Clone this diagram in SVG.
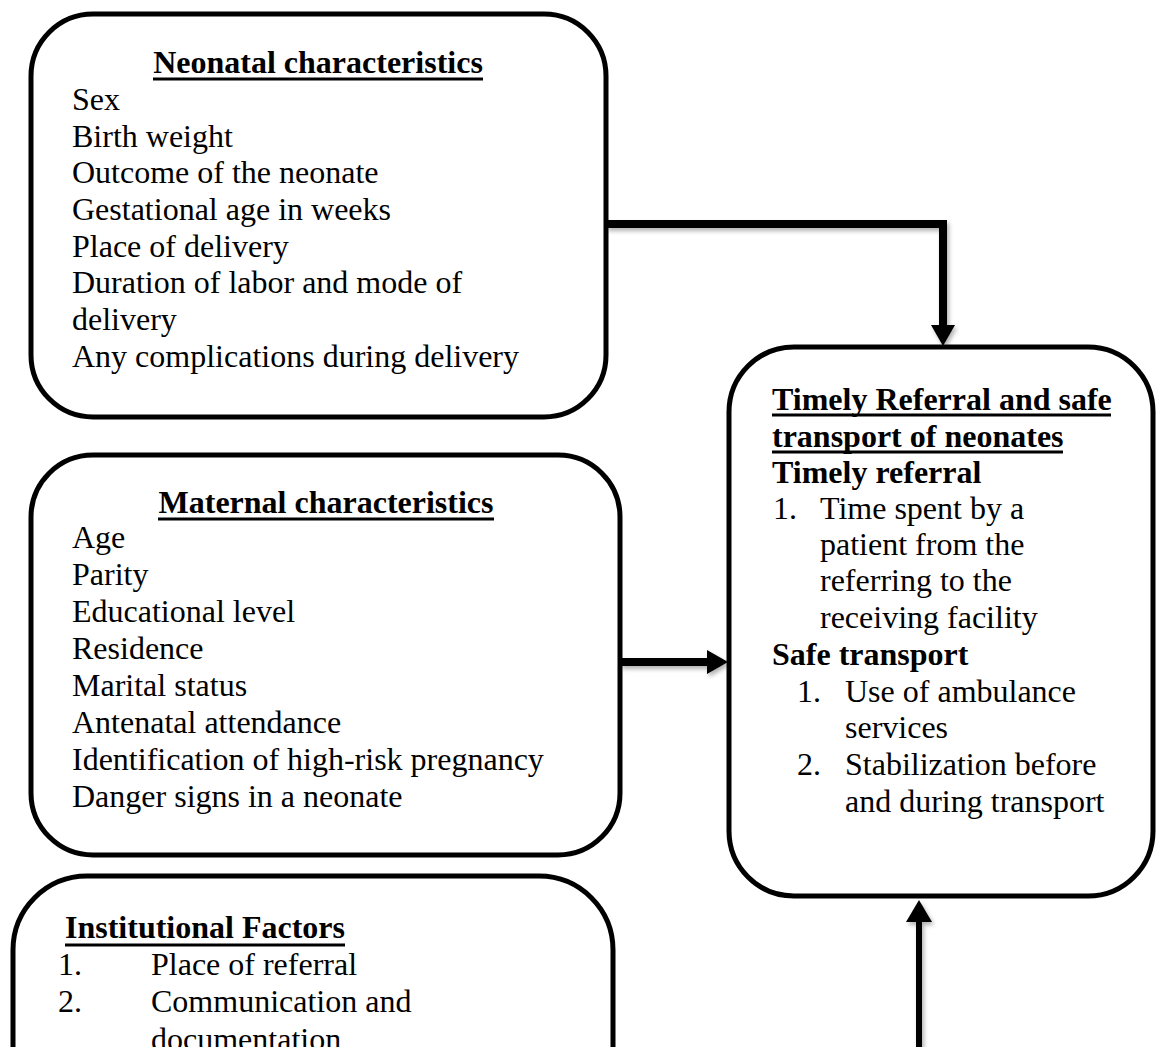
<svg xmlns="http://www.w3.org/2000/svg" width="1158" height="1047" viewBox="0 0 1158 1047">
<style>
.box{fill:#fff;stroke:#000;stroke-width:5}
.t{font-family:"Liberation Serif","Times New Roman",serif;font-size:32px;fill:#000}
.b{font-weight:bold}
.ul{stroke:#000;stroke-width:3}
.conn{fill:none;stroke:#000;stroke-linejoin:miter;stroke-linecap:butt}
</style>
<defs>
<filter id="sh" x="-20%" y="-20%" width="140%" height="140%">
<feDropShadow dx="2" dy="3" stdDeviation="2" flood-color="#000" flood-opacity="0.3"/>
</filter>
</defs>
<rect width="1158" height="1047" fill="#fff"/>

<g id="connectors" filter="url(#sh)">
<path class="conn" stroke-width="8" d="M606 224 H943 V326"/>
<polygon points="943,346 931,325 955,325" fill="#000"/>
<path class="conn" stroke-width="8" d="M620 662 H708"/>
<polygon points="728,662 707,650 707,674" fill="#000"/>
<path class="conn" stroke-width="6" d="M919 1050 V921"/>
<polygon points="919,900 906,922 932,922" fill="#000"/>
</g>

<g id="neonatal">
<rect class="box" x="31" y="14" width="575" height="403" rx="62" ry="62"/>
<text class="t b" x="318" y="73" text-anchor="middle">Neonatal characteristics</text>
<line class="ul" x1="153" y1="79" x2="483" y2="79"/>
<text class="t" x="72" y="110">Sex</text>
<text class="t" x="72" y="146.7">Birth weight</text>
<text class="t" x="72" y="183.3">Outcome of the neonate</text>
<text class="t" x="72" y="220">Gestational age in weeks</text>
<text class="t" x="72" y="256.7">Place of delivery</text>
<text class="t" x="72" y="293.3">Duration of labor and mode of</text>
<text class="t" x="72" y="330">delivery</text>
<text class="t" x="72" y="366.7">Any complications during delivery</text>
</g>

<g id="maternal">
<rect class="box" x="31" y="455" width="589" height="400" rx="62" ry="62"/>
<text class="t b" x="326" y="513" text-anchor="middle">Maternal characteristics</text>
<line class="ul" x1="158" y1="519" x2="494" y2="519"/>
<text class="t" x="72" y="548">Age</text>
<text class="t" x="72" y="585">Parity</text>
<text class="t" x="72" y="622">Educational level</text>
<text class="t" x="72" y="659">Residence</text>
<text class="t" x="72" y="696">Marital status</text>
<text class="t" x="72" y="733">Antenatal attendance</text>
<text class="t" x="72" y="770">Identification of high-risk pregnancy</text>
<text class="t" x="72" y="807">Danger signs in a neonate</text>
</g>

<g id="timely">
<rect class="box" x="729" y="347" width="424" height="549" rx="65" ry="65"/>
<text class="t b" x="772" y="410">Timely Referral and safe</text>
<line class="ul" x1="772" y1="415" x2="1111" y2="415"/>
<text class="t b" x="772" y="447">transport of neonates</text>
<line class="ul" x1="772" y1="452" x2="1063" y2="452"/>
<text class="t b" x="772" y="483">Timely referral</text>
<text class="t" x="773" y="519">1.</text>
<text class="t" x="820" y="519">Time spent by a</text>
<text class="t" x="820" y="555">patient from the</text>
<text class="t" x="820" y="591">referring to the</text>
<text class="t" x="820" y="628">receiving facility</text>
<text class="t b" x="772" y="665">Safe transport</text>
<text class="t" x="797" y="702">1.</text>
<text class="t" x="845" y="702">Use of ambulance</text>
<text class="t" x="845" y="738">services</text>
<text class="t" x="797" y="775">2.</text>
<text class="t" x="845" y="775">Stabilization before</text>
<text class="t" x="845" y="812">and during transport</text>
</g>

<g id="institutional">
<rect class="box" x="13" y="876" width="600" height="260" rx="74" ry="74"/>
<text class="t b" x="65" y="938">Institutional Factors</text>
<line class="ul" x1="65" y1="945" x2="345" y2="945"/>
<text class="t" x="58" y="975">1.</text>
<text class="t" x="151" y="975">Place of referral</text>
<text class="t" x="58" y="1012">2.</text>
<text class="t" x="151" y="1012">Communication and</text>
<text class="t" x="151" y="1050">documentation</text>
</g>
</svg>
